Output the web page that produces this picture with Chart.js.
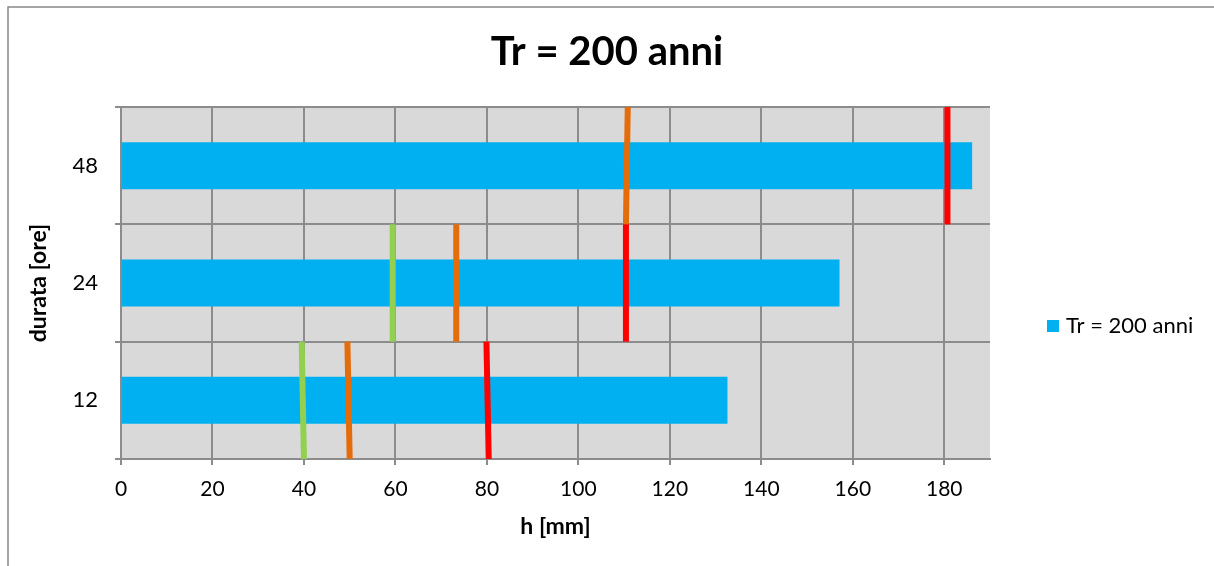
<!DOCTYPE html>
<html>
<head>
<meta charset="utf-8">
<script src="https://cdn.jsdelivr.net/npm/chart.js@4.4.0/dist/chart.umd.min.js"></script>
<style>
  html, body { margin: 0; padding: 0; background: #fff; overflow: hidden; }
  #wrap { width: 1214px; height: 566px; }
</style>
</head>
<body>
<div id="wrap"><canvas id="chart" width="1214" height="566"></canvas></div>
<script>
// durata [ore] and h [mm]
var durations = ['12', '24', '48'];
var rainfall = [132.6, 157.1, 186.1];
var seriesLabel = 'Tr = 200 anni';
var xTicks = [0, 20, 40, 60, 80, 100, 120, 140, 160, 180];
var xMax = 190;

// marker lines per duration: [value at top of band, value at bottom of band]
var greenMarks = [[39.5, 40.0], [59.4, 59.4], null];
var orangeMarks = [[49.5, 50.0], [73.3, 73.3], [110.8, 110.4]];
var redMarks = [[79.9, 80.4], [110.4, 110.4], [180.7, 180.7]];

var FONT = "Lato, 'Open Sans', sans-serif";

var backgroundPlugin = {
    id: 'plotBackground',
    beforeDraw: function (chart) {
        var ctx = chart.ctx;
        var a = chart.chartArea;
        ctx.save();
        // outer frame
        ctx.strokeStyle = '#888888';
        ctx.lineWidth = 1.5;
        ctx.beginPath();
        ctx.moveTo(8, 566);
        ctx.lineTo(8, 7);
        ctx.lineTo(1214, 7);
        ctx.stroke();
        // plot area fill
        ctx.fillStyle = '#D9D9D9';
        ctx.fillRect(a.left, a.top, a.right - a.left, a.bottom - a.top);
        ctx.restore();
    }
};

var marksPlugin = {
    id: 'markLines',
    afterDatasetsDraw: function (chart) {
        var ctx = chart.ctx;
        var xs = chart.scales.x;
        var ys = chart.scales.y;
        var half = (ys.bottom - ys.top) / durations.length / 2;
        var groups = [
            { marks: greenMarks, color: '#92D050' },
            { marks: orangeMarks, color: '#E46C0A' },
            { marks: redMarks, color: '#FF0000' }
        ];
        ctx.save();
        ctx.lineWidth = 6;
        ctx.lineCap = 'butt';
        groups.forEach(function (g) {
            ctx.strokeStyle = g.color;
            g.marks.forEach(function (m, i) {
                if (!m) return;
                var yc = ys.getPixelForValue(i);
                ctx.beginPath();
                ctx.moveTo(xs.getPixelForValue(m[0]), yc - half);
                ctx.lineTo(xs.getPixelForValue(m[1]), yc + half);
                ctx.stroke();
            });
        });
        ctx.restore();
    }
};

var legendPlugin = {
    id: 'sideLegend',
    afterDraw: function (chart) {
        var ctx = chart.ctx;
        var ds = chart.data.datasets[0];
        var x = chart.chartArea.right + 57;
        var y = 326;
        ctx.save();
        ctx.fillStyle = ds.backgroundColor;
        ctx.fillRect(x, y - 6, 12, 12);
        ctx.fillStyle = '#000';
        ctx.font = "22px " + FONT;
        ctx.textBaseline = 'middle';
        ctx.textAlign = 'left';
        ctx.fillText(ds.label, x + 19, y);
        ctx.restore();
    }
};

var chart = new Chart(document.getElementById('chart'), {
    type: 'bar',
    data: {
        labels: durations,
        datasets: [{
            label: seriesLabel,
            data: rainfall,
            backgroundColor: '#00B0F0',
            borderWidth: 0,
            categoryPercentage: 1,
            barPercentage: 0.4
        }]
    },
    options: {
        indexAxis: 'y',
        responsive: false,
        animation: false,
        maintainAspectRatio: false,
        layout: { padding: 0 },
        plugins: {
            legend: { display: false },
            tooltip: { enabled: false },
            title: {
                display: true,
                text: seriesLabel,
                color: '#000',
                font: { family: FONT, size: 40, weight: 'bold' },
                padding: { top: 28, bottom: 31 }
            }
        },
        scales: {
            x: {
                type: 'linear',
                min: 0,
                max: xMax,
                afterBuildTicks: function (axis) {
                    axis.ticks = xTicks.map(function (v) { return { value: v }; });
                },
                afterFit: function (scale) { scale.height = 107; },
                grid: { color: '#8C8C8C', lineWidth: 2, tickLength: 6, drawTicks: true },
                border: { color: '#8C8C8C', width: 2 },
                ticks: { color: '#000', padding: 12, font: { family: FONT, size: 21 }, maxRotation: 0 },
                title: {
                    display: true,
                    text: 'h [mm]',
                    color: '#000',
                    font: { family: FONT, size: 23, weight: 'bold' },
                    padding: { top: 0, bottom: 26 }
                }
            },
            y: {
                type: 'category',
                reverse: true,
                afterFit: function (scale) { scale.width = 121; },
                grid: { color: '#8C8C8C', lineWidth: 2, tickLength: 6, offset: true },
                border: { color: '#8C8C8C', width: 2 },
                ticks: { color: '#000', padding: 17, font: { family: FONT, size: 22 } },
                title: {
                    display: true,
                    text: 'durata [ore]',
                    color: '#000',
                    font: { family: FONT, size: 23, weight: 'bold' },
                    padding: { top: 25, bottom: 0 }
                }
            },
            // empty right-hand strip that holds the legend space
            legendSpace: {
                type: 'category',
                position: 'right',
                afterFit: function (scale) { scale.width = 224; },
                grid: { display: false },
                border: { display: false },
                ticks: { display: false }
            }
        }
    },
    plugins: [backgroundPlugin, marksPlugin, legendPlugin]
});
</script>
</body>
</html>
